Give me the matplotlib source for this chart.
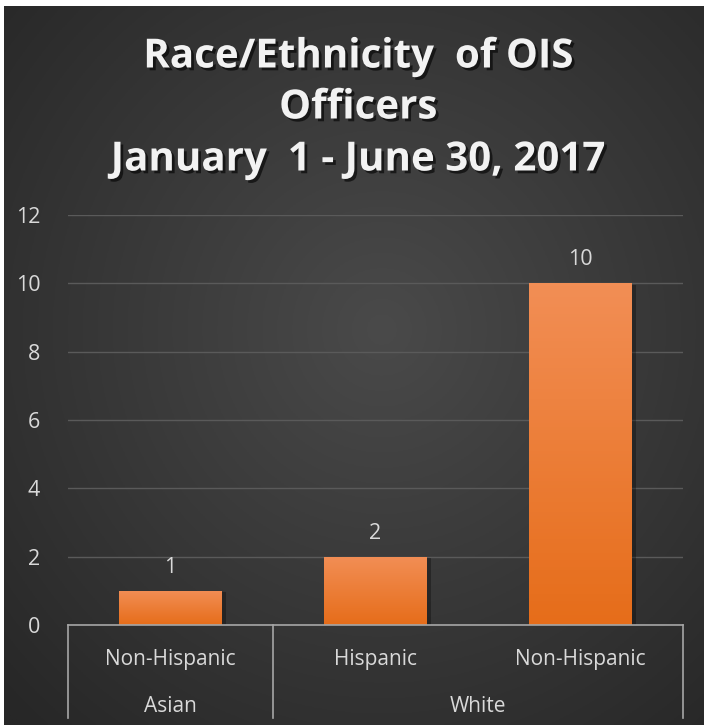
import numpy as np
import matplotlib
matplotlib.use("Agg")
import matplotlib.pyplot as plt
from matplotlib import patheffects as pe

# ---- data ----
subcategories = ["Non-Hispanic", "Hispanic", "Non-Hispanic"]
groups = ["Asian", "White"]
group_sizes = [1, 2]
values = [1, 2, 10]
yticks = [0, 2, 4, 6, 8, 10, 12]
title_lines = ["Race/Ethnicity  of OIS", "Officers", "January  1 - June 30, 2017"]

FONT = "Open Sans"
W, H = 704, 725
fig = plt.figure(figsize=(W / 100, H / 100), dpi=100)
fig.patch.set_facecolor("white")

# ---- background (radial dark gradient) ----
bg = fig.add_axes([4 / W, 0, 1 - 4 / W, 1 - 6 / H])
bg.set_axis_off()
yy, xx = np.mgrid[0:1:300j, 0:1:300j]
d = np.sqrt(((xx - 0.54) / 0.75) ** 2 + ((yy - 0.45) / 0.75) ** 2)
d = np.clip(d, 0, 1)
c0 = np.array([0x4a, 0x4a, 0x4a]) / 255
c1 = np.array([0x27, 0x27, 0x27]) / 255
img = c0[None, None, :] * (1 - d[..., None]) + c1[None, None, :] * d[..., None]
bg.imshow(img, extent=[0, 1, 0, 1], aspect="auto", origin="upper")
bg.set_xlim(0, 1)
bg.set_ylim(0, 1)

# ---- main axes ----
left, right = 68 / W, 683 / W
bottom, top = 1 - 625 / H, 1 - 215 / H
ax = fig.add_axes([left, bottom, right - left, top - bottom])
ax.set_facecolor("none")
for s in ax.spines.values():
    s.set_visible(False)

ax.set_yticks(yticks)
ax.yaxis.grid(True, color="#5a5a5a", linewidth=1)
ax.set_axisbelow(True)
ax.tick_params(axis="y", length=0, pad=20, labelcolor="#d9d9d9", labelsize=15.5)
for lab in ax.get_yticklabels():
    lab.set_fontfamily(FONT)
ax.set_xticks([])

x = np.arange(len(values))
bars = ax.bar(x, values, width=0.5, color="#ee7b30", zorder=3,
              path_effects=[pe.SimplePatchShadow(offset=(3, -1), shadow_rgbFace="black", alpha=0.3), pe.Normal()])

# gradient overlay in each bar
grad = np.linspace(0, 1, 100)[:, None]
top_c = np.array([0xf2, 0x8e, 0x55]) / 255
bot_c = np.array([0xe6, 0x6d, 0x1a]) / 255
gimg = top_c[None, None, :] * (1 - grad[..., None]) + bot_c[None, None, :] * grad[..., None]
gimg = np.repeat(gimg, 2, axis=1)
for b in bars:
    x0, y0 = b.get_x(), b.get_y()
    im = ax.imshow(gimg, extent=[x0, x0 + b.get_width(), y0, y0 + b.get_height()],
                   aspect="auto", origin="upper", zorder=4)
    im.set_clip_path(b)

ax.set_xlim(-0.5, len(values) - 0.5)
ax.set_ylim(0, 12)

# data labels
for xi, v in zip(x, values):
    ax.annotate(str(v), (xi, v), xytext=(0, 17), textcoords="offset points",
                ha="center", va="center", color="#d9d9d9", fontsize=15.5, fontfamily=FONT)

# category axis line
axis_col = "#a6a6a6"
ax.plot([0, 1], [0, 0], transform=ax.transAxes, color=axis_col, lw=1.2, zorder=5, clip_on=False)
line_bot = -(718 - 625) / 410
lvl1 = -(660 - 625) / 410
lvl2 = -(706 - 625) / 410
trans = ax.get_xaxis_transform()
for xi, s in zip(x, subcategories):
    ax.text(xi, lvl1, s, transform=trans, ha="center", va="center",
            color="#d9d9d9", fontsize=15, fontfamily=FONT)
start = -0.5
seps = [start]
for g, n in zip(groups, group_sizes):
    end = start + n
    ax.text((start + end) / 2, lvl2, g, transform=trans, ha="center", va="center",
            color="#d9d9d9", fontsize=15, fontfamily=FONT)
    seps.append(end)
    start = end
for sx in seps:
    ax.plot([sx, sx], [0, line_bot], transform=trans, color=axis_col, lw=1.2, clip_on=False)

# title
shadow = [pe.SimplePatchShadow(offset=(2, -2), shadow_rgbFace="black", alpha=0.6), pe.Normal()]
ys = [57, 108, 160]
for t, yp in zip(title_lines, ys):
    fig.text(358 / W, 1 - yp / H, t, ha="center", va="center", color="#f2f2f2",
             fontsize=29, fontweight="bold", fontfamily=FONT, path_effects=shadow)

fig.savefig("out.png", dpi=100, facecolor=fig.get_facecolor())
